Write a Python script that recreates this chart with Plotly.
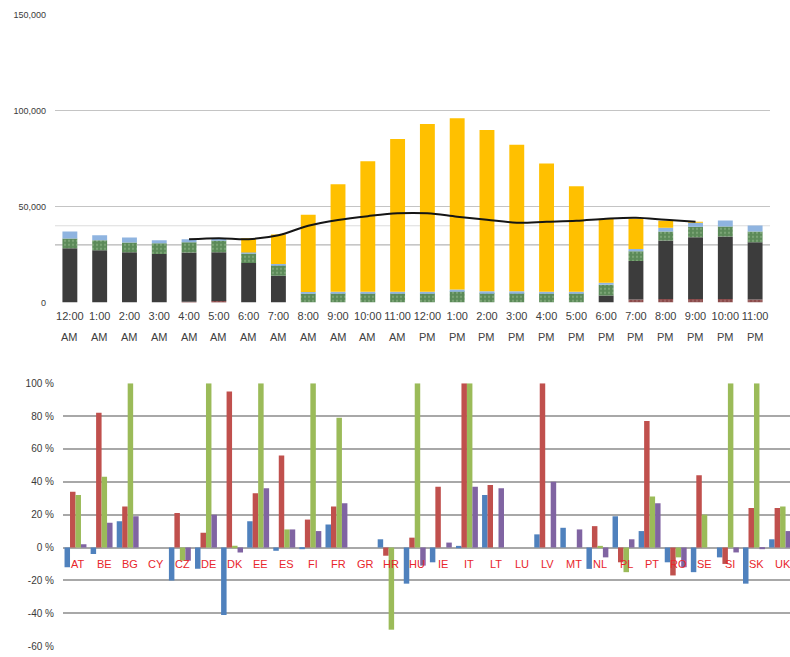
import plotly.graph_objects as go
import numpy as np

# ---------------- top chart data ----------------
hour_labels = ["12:00", "1:00", "2:00", "3:00", "4:00", "5:00", "6:00", "7:00", "8:00", "9:00", "10:00", "11:00",
               "12:00", "1:00", "2:00", "3:00", "4:00", "5:00", "6:00", "7:00", "8:00", "9:00", "10:00", "11:00"]
ampm = ["AM"] * 12 + ["PM"] * 12

red_base = [0, 0, 0, 0, 300, 800, 0, 0, 0, 0, 0, 0,
            0, 0, 0, 0, 0, 0, 0, 1500, 1800, 1800, 1800, 1500]
dark = [28300, 27200, 26200, 25200, 25800, 25400, 20500, 13900, 0, 0, 0, 0,
        0, 0, 0, 0, 0, 0, 3600, 20100, 30500, 32200, 32600, 29900]
green_top = [5100, 5200, 5100, 5600, 5300, 6100, 5000, 5600, 4600, 4800, 4800, 4800,
             4800, 5800, 5000, 5000, 4800, 4800, 5600, 5100, 4700, 5500, 5200, 5600]
lightblue = [3600, 2600, 2600, 1600, 1500, 600, 500, 500, 800, 800, 800, 800,
             800, 1000, 800, 800, 800, 800, 1000, 1200, 2000, 2100, 3100, 3100]
yellow = [0, 0, 0, 0, 0, 0, 7500, 15400, 40300, 56100, 68000, 79700,
          87400, 89300, 84100, 76400, 66800, 55000, 33500, 15800, 3600, 300, 0, 0]
load_line = [None, None, None, None, 32900, 33500, 33000, 35000, 40000, 43000, 45000, 46500,
             46500, 44700, 43100, 41600, 42100, 42600, 43700, 44200, 43100, 42100, None, None]

top_ticks = [0, 50000, 100000, 150000]
top_tick_text = ["0", "50,000", "100,000", "150,000"]

# ---------------- bottom chart data ----------------
countries = ["AT", "BE", "BG", "CY", "CZ", "DE", "DK", "EE", "ES", "FI", "FR", "GR", "HR", "HU",
             "IE", "IT", "LT", "LU", "LV", "MT", "NL", "PL", "PT", "RO", "SE", "SI", "SK", "UK"]
s_blue = [-12, -4, 16, 0, -20, -13, -41, 16, -2, -1, 14, 0, 5, -22,
          -9, 1, 32, 0, 8, 12, -13, 19, 10, -9, -15, -6, -22, 5]
s_red = [34, 82, 25, 0, 21, 9, 95, 33, 56, 17, 25, 0, -5, 6,
         37, 100, 38, 0, 100, 0, 13, -9, 77, -17, 44, -10, 24, 24]
s_green = [32, 43, 100, 0, -8, 100, 1, 100, 11, 100, 79, 0, -50, 100,
           0, 100, 0, 0, 0, 0, 1, -15, 31, -6, 20, 100, 100, 25]
s_purple = [2, 15, 19, 0, -8, 20, -3, 36, 11, 10, 27, 0, 0, -11,
            3, 37, 36, 0, 40, 11, -6, 5, 27, -12, 0, -3, -1, 10]

pct_ticks = [-60, -40, -20, 0, 20, 40, 60, 80, 100]
pct_text = [f"{v} %" for v in pct_ticks]

# ---------------- figure ----------------
fig = go.Figure()
xi = list(range(len(hour_labels)))

stack = [
    (red_base, "#8a4a4a", True),
    (dark, "#3c3c3c", False),
    (green_top, "#5b8a58", True),
    (lightblue, "#8fb4e0", False),
    (yellow, "#ffc000", False),
]
base = np.zeros(len(hour_labels))
for vals, col, patt in stack:
    v = np.array(vals, dtype=float)
    kw = {}
    if patt:
        kw = dict(pattern=dict(shape=".", fgcolor="#9cbf94" if col == "#5b8a58" else "#b07a7a",
                               size=4, solidity=0.25))
    fig.add_trace(go.Bar(x=xi, y=v, base=base.copy(), marker=dict(color=col, line=dict(width=0), **kw),
                         width=0.5, offset=-0.25, xaxis="x", yaxis="y", showlegend=False))
    base = base + v

fig.add_trace(go.Scatter(x=xi, y=load_line, mode="lines", line=dict(color="#151515", width=2, shape="spline"),
                         connectgaps=False, xaxis="x", yaxis="y", showlegend=False))

tick_font = dict(family="Liberation Sans, Arial", size=11, color="#404040")
for i, t in enumerate(ampm):
    fig.add_annotation(x=i, y=0, xref="x", yref="y", text=t, showarrow=False,
                       yanchor="middle", yshift=-35, font=tick_font)

ci = list(range(len(countries)))
bw = 0.21
for k, (vals, col) in enumerate([(s_blue, "#4f81bd"), (s_red, "#c0504d"),
                                 (s_green, "#9bbb59"), (s_purple, "#8064a2")]):
    fig.add_trace(go.Bar(x=ci, y=vals, marker=dict(color=col, line=dict(width=0)),
                         width=bw, offset=-0.44 + k * bw, xaxis="x2", yaxis="y2", showlegend=False))

for i, c in enumerate(countries):
    fig.add_annotation(x=i, y=-10, xref="x2", yref="y2", text=c, showarrow=False, xshift=2,
                       font=dict(family="Liberation Sans, Arial", size=11, color="#e8262b"))

# extra faint reference lines in top chart
for yv, colr in [(30000, "#b5b5b5"), (40000, "#dcdcdc")]:
    fig.add_shape(type="line", xref="x domain", yref="y", x0=0, x1=1, y0=yv, y1=yv,
                  line=dict(color=colr, width=1.2), layer="below")

fig.update_layout(
    width=790, height=657,
    margin=dict(l=0, r=0, t=0, b=0),
    paper_bgcolor="white", plot_bgcolor="white",
    barmode="overlay",
    xaxis=dict(domain=[0.0696, 0.9747], range=[-0.5, 23.5], anchor="y",
               tickvals=xi, ticktext=hour_labels, tickangle=0, showgrid=False,
               showline=False, ticks="", ticklabelstandoff=6,
               tickfont=tick_font),
    yaxis=dict(domain=[0.5403, 0.9848], range=[0, 150000], anchor="x",
               tickvals=top_ticks, ticktext=top_tick_text, showgrid=True, gridcolor="#c4c4c4",
               gridwidth=1.3, zeroline=False, ticks="", ticklabelstandoff=8,
               tickfont=dict(family="Liberation Sans, Arial", size=9, color="#3a3a3a")),
    xaxis2=dict(domain=[0.0797, 1.0], range=[-0.5, 27.36], anchor="y2",
                showticklabels=False, showgrid=False, ticks="", showline=False),
    yaxis2=dict(domain=[0.0091, 0.4155], range=[-60, 100], anchor="x2",
                tickvals=pct_ticks, ticktext=pct_text, showgrid=True, gridcolor="#a8a8a8", gridwidth=1.5,
                zeroline=True, zerolinecolor="#a8a8a8", zerolinewidth=1.5, ticks="", ticklabelstandoff=8,
                tickfont=dict(family="Liberation Sans, Arial", size=10, color="#3a3a3a")),
)

fig.write_html("out.html", config={"displayModeBar": False},
               post_script="document.body.style.margin='0';document.body.style.overflow='hidden';")
